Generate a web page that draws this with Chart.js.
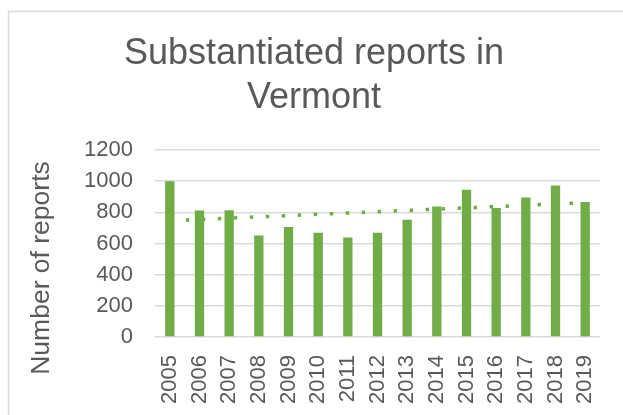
<!DOCTYPE html>
<html>
<head>
<meta charset="utf-8">
<script src="https://cdn.jsdelivr.net/npm/chart.js@4.4.1/dist/chart.umd.min.js"></script>
<style>
  html, body { margin: 0; padding: 0; background: #fff; }
  #wrap { width: 623px; height: 415px; }
</style>
</head>
<body>
<div id="wrap"><canvas id="chart" width="623" height="415"></canvas></div>
<script>
const years = ['2005', '2006', '2007', '2008', '2009', '2010', '2011', '2012',
  '2013', '2014', '2015', '2016', '2017', '2018', '2019'];
const reports = [1000, 811, 813, 652, 706, 669, 639, 669, 753, 837, 945, 828, 895, 972, 867];
// linear trendline, ends
const trendStart = 746;
const trendEnd = 862;
const yTicks = [0, 200, 400, 600, 800, 1000, 1200];
const yTitle = 'Number of reports';

const green = '#70AD47';
const grey = '#595959';
const fontFamily = "'Liberation Sans', Arial, sans-serif";

const trend = years.map((y, i) => i === 0 ? trendStart : (i === years.length - 1 ? trendEnd : null));

// light frame around the chart, runs off the right and bottom edges
const framePlugin = {
  id: 'frame',
  beforeDraw(chart) {
    const ctx = chart.ctx;
    ctx.save();
    ctx.fillStyle = '#fff';
    ctx.fillRect(0, 0, chart.width, chart.height);
    ctx.strokeStyle = '#d9d9d9';
    ctx.lineWidth = 1.5;
    ctx.strokeRect(8.5, 11.5, 700, 500);
    ctx.restore();
  }
};

// the y title sits lower than the plot centre in the original
const yTitlePlugin = {
  id: 'yTitle',
  afterDraw(chart) {
    const ctx = chart.ctx;
    ctx.save();
    ctx.translate(42, 268);
    ctx.rotate(-Math.PI / 2);
    ctx.fillStyle = grey;
    ctx.font = '26.5px ' + fontFamily;
    ctx.textAlign = 'center';
    ctx.textBaseline = 'middle';
    ctx.fillText(yTitle, 0, 0);
    ctx.restore();
  }
};

new Chart(document.getElementById('chart'), {
  type: 'bar',
  data: {
    labels: years,
    datasets: [
      {
        type: 'bar',
        label: 'Substantiated reports',
        data: reports,
        backgroundColor: green,
        barPercentage: 0.314,
        categoryPercentage: 1,
        order: 1
      },
      {
        type: 'line',
        label: 'Linear trend',
        data: trend,
        spanGaps: true,
        borderColor: green,
        borderWidth: 3.5,
        borderDash: [3.5, 12.5],
        borderCapStyle: 'butt',
        pointRadius: 0,
        fill: false,
        order: 2
      }
    ]
  },
  options: {
    responsive: false,
    animation: false,
    layout: { padding: { left: 28, right: 23, top: 0, bottom: 0 } },
    plugins: {
      legend: { display: false },
      tooltip: { enabled: false },
      title: {
        display: true,
        text: ['Substantiated reports in', 'Vermont'],
        color: grey,
        font: { family: fontFamily, size: 36, weight: 'normal', lineHeight: 44 / 36 },
        padding: { top: 32, bottom: 30 }
      }
    },
    scales: {
      x: {
        afterFit(scale) { scale.height = 78; },
        grid: { display: false },
        border: { display: false },
        ticks: {
          autoSkip: false,
          minRotation: 90,
          maxRotation: 90,
          padding: 10,
          color: grey,
          font: { family: fontFamily, size: 22 }
        }
      },
      y: {
        min: 0,
        max: 1200,
        afterBuildTicks(scale) {
          scale.ticks = yTicks.map(v => ({ value: v }));
        },
        afterFit(scale) { scale.width = 127; },
        grid: { color: '#d9d9d9', lineWidth: 1.5, drawTicks: false },
        border: { display: false },
        ticks: {
          autoSkip: false,
          padding: 22,
          color: grey,
          font: { family: fontFamily, size: 22 },
          callback: v => String(v)
        },
        title: { display: false }
      }
    }
  },
  plugins: [framePlugin, yTitlePlugin]
});
</script>
</body>
</html>
